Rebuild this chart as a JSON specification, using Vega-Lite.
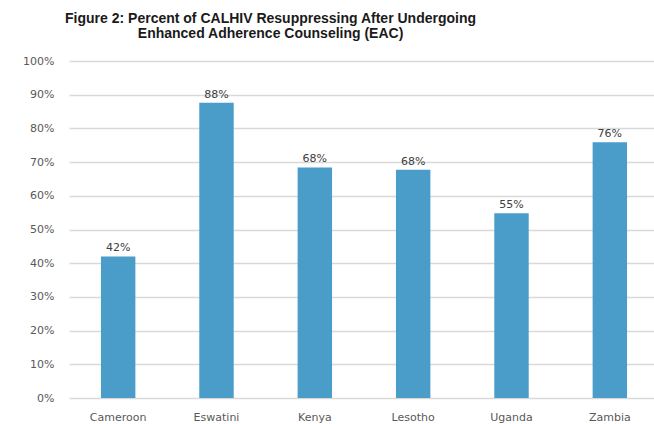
{
  "$schema": "https://vega.github.io/schema/vega-lite/v6.json",
  "autosize": "none",
  "padding": {"left": 69, "top": 61, "right": 0, "bottom": 26},
  "width": 590,
  "height": 337,
  "background": "white",
  "title": {
    "text": ["Figure 2: Percent of CALHIV Resuppressing After Undergoing", "Enhanced Adherence Counseling (EAC)"],
    "anchor": "start",
    "align": "center",
    "dx": 248,
    "offset": 14,
    "font": "Liberation Sans",
    "fontSize": 14,
    "fontWeight": "bold",
    "color": "#1a1a1a",
    "lineHeight": 15
  },
  "data": {
    "values": [
      {"country": "Cameroon", "value": 0.42},
      {"country": "Eswatini", "value": 0.876},
      {"country": "Kenya", "value": 0.684},
      {"country": "Lesotho", "value": 0.677},
      {"country": "Uganda", "value": 0.548},
      {"country": "Zambia", "value": 0.759}
    ]
  },
  "encoding": {
    "x": {
      "field": "country",
      "type": "nominal",
      "sort": null,
      "scale": {"paddingInner": 0.65, "paddingOuter": 0.325},
      "axis": {
        "title": null,
        "labelAngle": 0,
        "domain": false,
        "ticks": false,
        "labelPadding": 13,
        "labelFont": "DejaVu Sans",
        "labelFontSize": 11,
        "labelColor": "#595959"
      }
    },
    "y": {
      "field": "value",
      "type": "quantitative",
      "scale": {"domain": [0, 1]},
      "axis": {
        "title": null,
        "format": ".0%",
        "values": [0, 0.1, 0.2, 0.3, 0.4, 0.5, 0.6, 0.7, 0.8, 0.9, 1],
        "domain": false,
        "ticks": false,
        "labelPadding": 15,
        "labelFont": "DejaVu Sans",
        "labelFontSize": 11,
        "labelColor": "#595959",
        "gridColor": "#d9d9d9",
        "gridWidth": 1.5
      }
    }
  },
  "layer": [
    {"mark": {"type": "bar", "color": "#4a9cc9"}},
    {
      "mark": {"type": "text", "baseline": "bottom", "dy": -3, "font": "DejaVu Sans", "fontSize": 11, "color": "#404040"},
      "encoding": {"text": {"field": "value", "type": "quantitative", "format": ".0%"}}
    }
  ],
  "config": {"view": {"stroke": null}}
}
